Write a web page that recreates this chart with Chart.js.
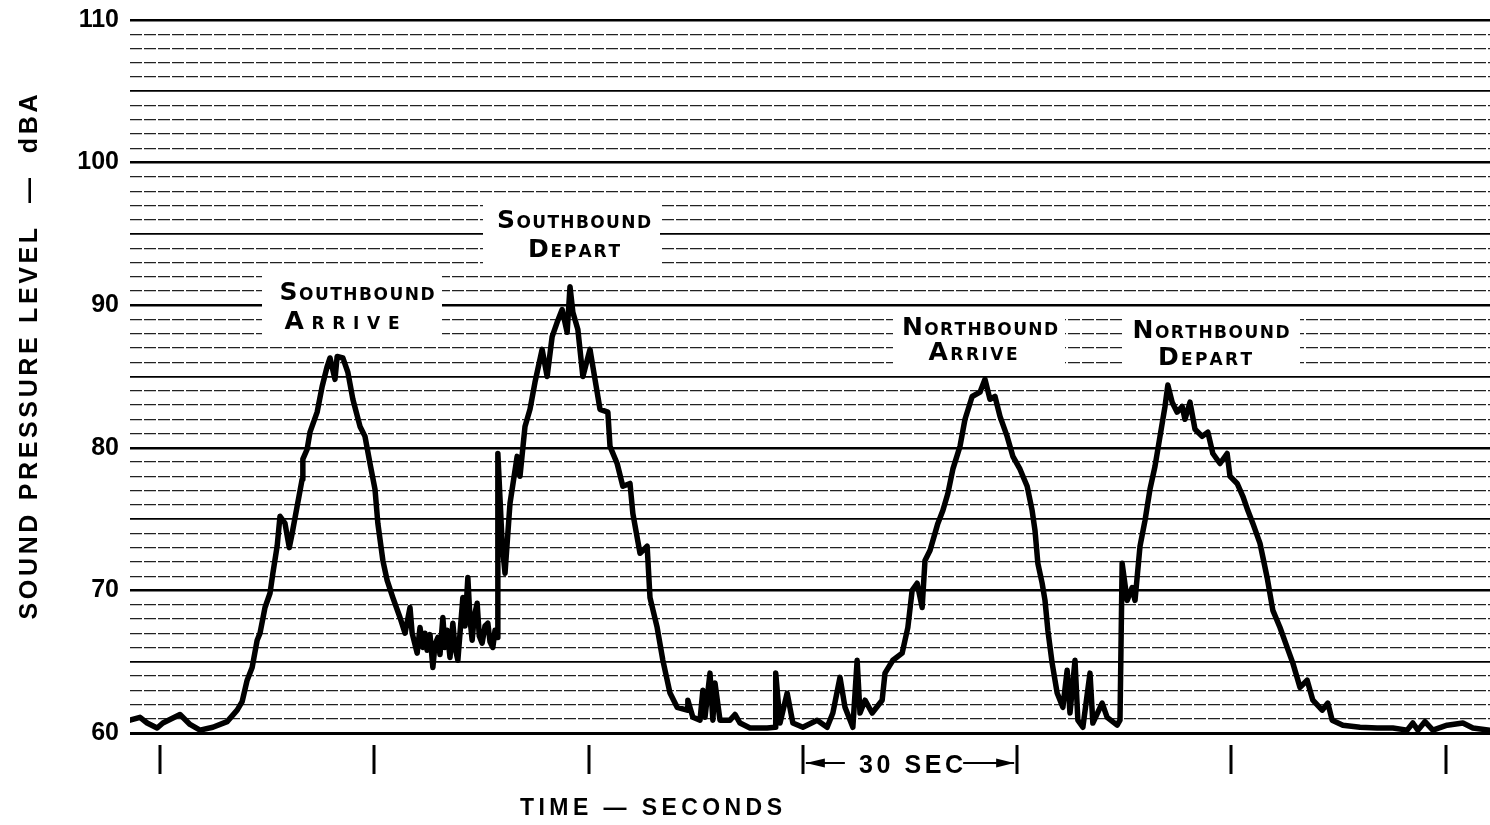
<!DOCTYPE html>
<html>
<head>
<meta charset="utf-8">
<script src="https://cdn.jsdelivr.net/npm/chart.js@4"></script>
<style>
  html, body { margin: 0; padding: 0; background: #fff; }
  canvas { display: block; }
</style>
</head>
<body>
<canvas id="chart" width="1490" height="825"></canvas>
<script>
// meter trace: time in seconds, level in dBA
const seconds = [
  -4.2, -2.8, -1.8, -0.4, 0.4, 2.8, 4.2, 5.6, 7.4, 9.4,
  10.8, 11.5, 12.2, 12.9, 13.6, 14.0, 14.7, 15.4, 15.8, 16.4,
  16.8, 17.5, 18.1, 18.5, 19.2, 19.9, 20.0, 20.6, 21.0, 22.0,
  22.7, 23.4, 23.8, 24.5, 24.8, 25.6, 26.3, 27.0, 28.0, 28.7,
  29.4, 30.1, 30.5, 31.2, 31.8, 32.6, 33.6, 34.3, 35.0, 35.3,
  36.0, 36.4, 36.8, 37.1, 37.4, 37.8, 38.2, 38.5, 38.9, 39.2,
  39.6, 39.9, 40.2, 40.6, 41.0, 41.3, 41.7, 42.0, 42.4, 42.7,
  43.1, 43.4, 43.7, 44.0, 44.4, 44.7, 45.1, 45.5, 45.9, 46.2,
  46.6, 46.9, 47.2, 47.3, 47.9, 48.3, 49.0, 50.0, 50.4, 51.1,
  51.8, 52.5, 53.5, 54.2, 54.9, 55.6, 56.3, 57.0, 57.4, 57.8,
  58.5, 59.2, 60.2, 60.9, 61.6, 62.7, 63.0, 64.0, 64.8, 65.8,
  66.2, 67.2, 68.2, 68.6, 69.6, 70.4, 71.4, 72.4, 73.8, 73.9,
  74.6, 75.6, 76.0, 76.3, 77.0, 77.4, 77.7, 78.4, 79.8, 80.5,
  81.2, 82.6, 85.0, 86.1, 86.2, 86.8, 87.8, 88.6, 90.0, 92.0,
  93.4, 94.2, 95.2, 95.9, 97.0, 97.6, 98.0, 98.7, 99.7, 101.1,
  101.5, 102.6, 103.9, 104.7, 105.3, 106.0, 106.7, 107.1, 107.8, 108.9,
  109.6, 110.3, 111.0, 112.0, 112.7, 113.7, 114.8, 115.5, 116.2, 116.9,
  117.6, 118.6, 119.4, 120.4, 121.4, 122.1, 122.5, 122.9, 123.5, 123.9,
  124.3, 124.9, 125.6, 126.4, 127.0, 127.4, 128.1, 128.5, 129.2, 130.2,
  130.6, 131.9, 132.6, 134.0, 134.4, 134.7, 135.4, 136.1, 136.5, 137.2,
  137.9, 138.6, 139.3, 140.0, 140.7, 141.1, 141.7, 142.4, 143.1, 143.5,
  144.2, 144.9, 145.9, 146.7, 147.4, 148.4, 149.4, 149.8, 150.8, 151.6,
  152.3, 153.0, 154.0, 155.0, 155.8, 156.8, 157.8, 158.6, 159.6, 160.6,
  161.4, 162.7, 163.5, 164.1, 165.6, 168.0, 170.4, 172.6, 174.6, 175.4,
  176.1, 177.1, 178.2, 180.2, 182.4, 183.8, 186.2
];
const dba = [
  60.9, 61.1, 60.7, 60.35, 60.7, 61.3, 60.6, 60.2, 60.4, 60.8,
  61.6, 62.2, 63.7, 64.6, 66.5, 67.0, 68.8, 69.8, 71.2, 73.1,
  75.2, 74.7, 73.0, 74.0, 75.9, 77.8, 79.2, 79.9, 81.1, 82.5,
  84.3, 85.7, 86.3, 84.8, 86.4, 86.3, 85.3, 83.4, 81.5, 80.8,
  78.9, 77.1, 74.7, 72.1, 70.7, 69.5, 68.1, 67.0, 68.8, 67.0,
  65.6, 67.4, 66.0, 67.0, 65.8, 66.9, 64.6, 66.2, 66.7, 65.5,
  68.1, 66.0, 67.2, 65.3, 67.7, 66.0, 65.1, 67.0, 69.5, 67.5,
  70.9, 68.0, 66.5, 68.2, 69.1, 66.8, 66.3, 67.5, 67.7, 66.4,
  66.0, 67.2, 66.7, 79.6, 73.3, 71.2, 76.1, 79.4, 78.0, 81.5,
  82.7, 84.6, 86.9, 85.0, 87.8, 88.8, 89.7, 88.1, 91.3, 89.5,
  88.3, 85.0, 86.9, 84.8, 82.7, 82.5, 80.1, 78.9, 77.3, 77.5,
  75.4, 72.6, 73.1, 69.5, 67.4, 65.1, 62.8, 61.8, 61.6, 62.3,
  61.1, 60.9, 63.0, 61.1, 64.2, 60.9, 63.5, 60.9, 60.9, 61.3,
  60.7, 60.35, 60.35, 60.4, 64.2, 60.7, 62.8, 60.7, 60.4, 60.9,
  60.4, 61.4, 63.9, 61.8, 60.4, 65.1, 61.4, 62.3, 61.4, 62.3,
  64.2, 65.1, 65.6, 67.4, 70.0, 70.5, 68.8, 72.1, 72.8, 74.7,
  75.6, 76.8, 78.5, 80.1, 82.0, 83.6, 83.9, 84.8, 83.4, 83.6,
  82.2, 80.8, 79.4, 78.5, 77.3, 75.6, 74.2, 71.9, 70.5, 69.3,
  67.2, 64.9, 62.8, 61.8, 64.4, 61.4, 65.1, 60.9, 60.4, 64.2,
  60.7, 62.1, 61.1, 60.55, 60.9, 71.9, 69.3, 70.2, 69.3, 73.1,
  74.9, 77.1, 78.7, 80.8, 82.9, 84.4, 83.2, 82.5, 82.9, 82.0,
  83.2, 81.3, 80.8, 81.1, 79.6, 78.9, 79.6, 78.0, 77.5, 76.6,
  75.6, 74.7, 73.3, 70.9, 68.6, 67.4, 66.0, 64.9, 63.2, 63.7,
  62.3, 61.6, 62.1, 60.9, 60.55, 60.4, 60.35, 60.35, 60.2, 60.7,
  60.2, 60.8, 60.2, 60.55, 60.7, 60.35, 60.2
];

const levelLabels = [60, 70, 80, 90, 100, 110];
const timeTicks = [0, 30, 60, 90, 120, 150, 180];
const spanFrom = 90, spanTo = 120;   // "30 SEC" bracket
const events = [
  ['Southbound', 'Arrive'],
  ['Southbound', 'Depart'],
  ['Northbound', 'Arrive'],
  ['Northbound', 'Depart']
];

// where each event caption sits (white patch over the grid)
const captionBoxes = [
  { x: 262, y: 276, w: 180, h: 60, c1: 357, b1: 300, w1: 155, c2: 342, b2: 329, w2: 115 },
  { x: 483, y: 200, w: 177, h: 66, c1: 574, b1: 228, w1: 154, c2: 574, b2: 257, w2: 92 },
  { x: 893, y: 310, w: 172, h: 60, c1: 980, b1: 335, w1: 156, c2: 973, b2: 360, w2: 89 },
  { x: 1122, y: 312, w: 178, h: 62, c1: 1211, b1: 338, w1: 157, c2: 1205, b2: 365, w2: 94 }
];

const points = seconds.map((t, i) => ({ x: t, y: dba[i] }));

// draw chars one by one, spreading them to a given width
function spaced(ctx, parts, cx, baseline, width) {
  const chars = [];
  parts.forEach(p => {
    ctx.font = p.font;
    for (const ch of p.text) chars.push({ ch, font: p.font, w: ctx.measureText(ch).width });
  });
  const natural = chars.reduce((s, c) => s + c.w, 0);
  const gap = chars.length > 1 ? (width - natural) / (chars.length - 1) : 0;
  let x = cx - width / 2;
  ctx.textAlign = 'left';
  ctx.textBaseline = 'alphabetic';
  chars.forEach(c => {
    ctx.font = c.font;
    ctx.fillText(c.ch, x, baseline);
    x += c.w + gap;
  });
}

function smallCaps(word) {
  return [
    { text: word[0].toUpperCase(), font: 'bold 25px "DejaVu Sans"' },
    { text: word.slice(1).toUpperCase(), font: 'bold 17px "DejaVu Sans"' }
  ];
}

const captions = {
  id: 'captions',
  beforeDatasetsDraw(chart) {
    const ctx = chart.ctx;
    ctx.save();
    events.forEach((ev, i) => {
      const b = captionBoxes[i];
      ctx.fillStyle = '#fff';
      ctx.fillRect(b.x, b.y, b.w, b.h);
      ctx.fillStyle = '#000';
      spaced(ctx, smallCaps(ev[0]), b.c1, b.b1, b.w1);
      spaced(ctx, smallCaps(ev[1]), b.c2, b.b2, b.w2);
    });
    ctx.restore();
  }
};

const timeAxis = {
  id: 'timeAxis',
  afterDraw(chart) {
    const ctx = chart.ctx;
    const xs = chart.scales.x;
    ctx.save();
    ctx.strokeStyle = '#000';
    ctx.fillStyle = '#000';
    ctx.lineWidth = 3;
    timeTicks.forEach(t => {
      const px = Math.round(xs.getPixelForValue(t));
      ctx.beginPath();
      ctx.moveTo(px, 745);
      ctx.lineTo(px, 774);
      ctx.stroke();
    });

    // 30 second bracket
    const a = xs.getPixelForValue(spanFrom);
    const b = xs.getPixelForValue(spanTo);
    const mid = (a + b) / 2;
    const ay = 763;
    ctx.lineWidth = 2;
    ctx.beginPath();
    ctx.moveTo(a + 3, ay); ctx.lineTo(a + 42, ay);
    ctx.moveTo(b - 54, ay); ctx.lineTo(b - 3, ay);
    ctx.stroke();
    ctx.beginPath();
    ctx.moveTo(a + 3, ay); ctx.lineTo(a + 22, ay - 4.5); ctx.lineTo(a + 22, ay + 4.5); ctx.closePath();
    ctx.moveTo(b - 3, ay); ctx.lineTo(b - 21, ay - 4.5); ctx.lineTo(b - 21, ay + 4.5); ctx.closePath();
    ctx.fill();
    spaced(ctx, [{ text: '30 SEC', font: 'bold 25px "Liberation Sans"' }], mid + 1, 773, 104);

    spaced(ctx, [{ text: 'TIME \u2014 SECONDS', font: 'bold 23px "Liberation Sans"' }], 651, 815, 262);

    ctx.translate(37, 357);
    ctx.rotate(-Math.PI / 2);
    spaced(ctx, [{ text: 'SOUND PRESSURE LEVEL  \u2014  dBA', font: 'bold 25px "Liberation Sans"' }], 0, 0, 525);
    ctx.restore();
  }
};

new Chart(document.getElementById('chart'), {
  type: 'line',
  data: {
    datasets: [{
      data: points,
      borderColor: '#000',
      borderWidth: 5.5,
      borderJoinStyle: 'round',
      borderCapStyle: 'round',
      pointRadius: 0,
      tension: 0,
      fill: false
    }]
  },
  options: {
    responsive: false,
    devicePixelRatio: 1,
    animation: false,
    layout: { padding: { top: 20, right: 0, bottom: 92, left: 0 } },
    plugins: { legend: { display: false }, tooltip: { enabled: false } },
    scales: {
      x: {
        type: 'linear',
        display: false,
        min: -4.2,
        max: 186.2
      },
      y: {
        min: 60,
        max: 110,
        afterFit(scale) {
          scale.width = 130;
          scale.paddingTop = 0;
          scale.paddingBottom = 0;
        },
        ticks: {
          stepSize: 1,
          autoSkip: false,
          maxTicksLimit: 100,
          padding: 11,
          color: '#000',
          font: { family: 'Liberation Sans', size: 25, weight: 'bold' },
          callback: v => levelLabels.includes(v) ? String(v) : ''
        },
        grid: {
          drawTicks: false,
          color: ctx => (ctx.tick.value % 5 === 0 ? '#000' : '#222'),
          lineWidth: ctx => {
            const v = ctx.tick.value;
            if (v === 60) return 3;
            if (v % 10 === 0) return 2.5;
            if (v % 5 === 0) return 1.8;
            return 1.2;
          }
        },
        border: {
          display: false,
          dash: ctx => (ctx.tick && ctx.tick.value % 5 === 0 ? [] : [12, 2])
        }
      }
    }
  },
  plugins: [captions, timeAxis]
});
</script>
</body>
</html>
